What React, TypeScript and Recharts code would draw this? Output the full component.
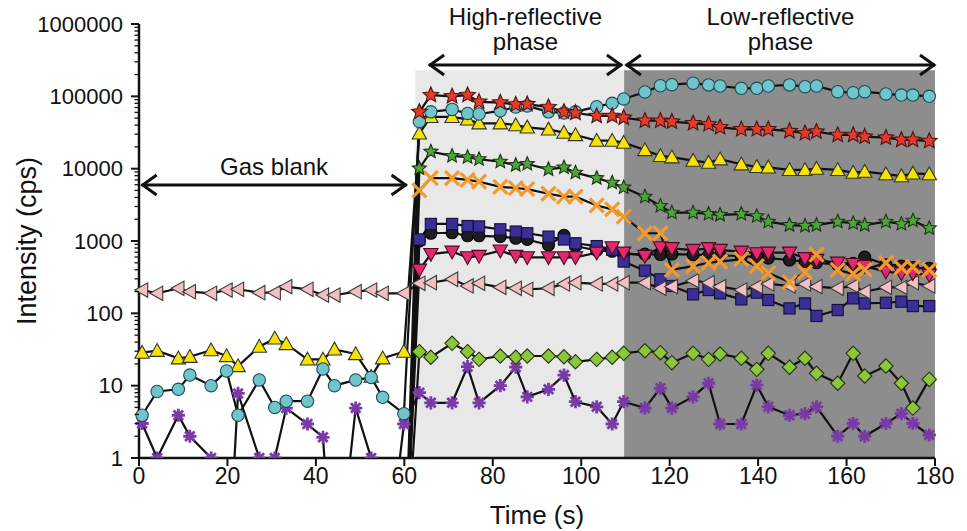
import { ComposedChart, Line, XAxis, YAxis, ReferenceArea, ReferenceLine } from 'recharts';

// acquisition times (s): gas blank (17 scans) then ablation (33 scans)
const times = [
  0.7, 4.1, 8.9, 11.5, 16.3, 19.8, 22.4, 27.2, 30.7, 33.3, 38.1, 41.6, 44.2, 49.0, 52.5, 55.1, 59.9,
  63.4, 66.0, 70.8, 74.3, 76.9, 81.7, 85.2, 87.8, 92.6, 96.1, 98.7, 103.5, 107.0, 109.6, 114.4, 117.9,
  120.5, 125.3, 128.8, 131.4, 136.2, 139.7, 142.3, 147.1, 150.6, 153.2, 158.0, 161.5, 164.1, 168.9,
  172.4, 175.0, 178.7,
];

// intensities (cps); 0 = no counts (drawn below the log axis)
const redStar = [
  0, 0, 0, 0, 0, 0, 0, 0, 0, 0, 0, 0, 0, 0, 0, 0, 0,
  61000, 104000, 100000, 104000, 84000, 82000, 77000, 78000, 71000, 61000, 59000, 53500, 53500, 50700,
  46000, 46000, 44600, 42400, 41000, 37300, 35000, 35000, 35000, 33000, 30900, 32500, 29200, 29200,
  27700, 26800, 25000, 25000, 24100,
];
const cyanCircle = [
  3.9, 8.3, 8.9, 14, 10, 16, 3.9, 12, 5.0, 6.1, 6.1, 17, 10, 12, 13, 6.9, 4.1,
  45000, 61000, 66000, 58000, 57000, 63000, 71000, 73600, 61000, 59000, 61000, 72000, 80000, 92000,
  115000, 140000, 145000, 152000, 144000, 139000, 129000, 129000, 139000, 144000, 136000, 139000,
  116000, 112000, 116000, 108000, 104000, 104000, 100000,
];
const yellowTri = [
  28.6, 30.4, 23.9, 25.1, 31, 25.7, 18.7, 34.6, 45, 37.7, 23.1, 23.1, 31.8, 27.4, 13.3, 23.9, 29.5,
  30800, 52000, 52000, 48000, 42400, 42400, 40000, 37300, 35000, 31500, 29200, 24400, 24400, 22900,
  18100, 15000, 14400, 12900, 12100, 13500, 11500, 10600, 10400, 9600, 9600, 10000, 9600, 8800, 9100,
  8400, 7900, 8600, 8400,
];
const greenStar = [
  0, 0, 0, 0, 0, 0, 0, 0, 0, 0, 0, 0, 0, 0, 0, 0, 0,
  10100, 17200, 15000, 14400, 13500, 12500, 11200, 11600, 9800, 10400, 8800, 7400, 6400, 5500, 4100,
  3050, 2460, 2460, 2360, 2300, 2360, 2200, 1850, 1660, 1620, 1660, 1850, 1760, 1660, 1850, 1720,
  1910, 1500,
];
const orangeX = [
  0, 0, 0, 0, 0, 0, 0, 0, 0, 0, 0, 0, 0, 0, 0, 0, 0,
  5000, 7400, 7400, 7000, 6600, 5600, 5400, 5200, 4500, 4100, 4100, 3100, 2740, 2170, 1280, 1280,
  400, 450, 500, 520, 560, 450, 360, 270, 370, 650, 400, 350, 400, 500, 430, 440, 400,
];
const blueSquare = [
  0, 0, 0, 0, 0, 0, 0, 0, 0, 0, 0, 0, 0, 0, 0, 0, 0,
  1050, 1720, 1720, 1610, 1590, 1450, 1350, 1280, 1150, 1050, 930, 850, 760, 520, 389, 295, 239,
  183, 210, 189, 156, 193, 153, 117, 137, 92, 111, 161, 137, 140, 145, 126, 126,
];
const blackCircle = [
  0, 0, 0, 0, 0, 0, 0, 0, 0, 0, 0, 0, 0, 0, 0, 0, 0,
  1000, 1280, 1300, 1180, 1180, 1150, 1090, 1050, 880, 1200, 850, 740, 720, 660, 660, 650, 660,
  650, 640, 630, 620, 600, 580, 546, 520, 500, 470, 490, 600, 470, 450, 430, 420,
];
const magentaTri = [
  0, 0, 0, 0, 0, 0, 0, 0, 0, 0, 0, 0, 0, 0, 0, 0, 0,
  400, 660, 711, 595, 621, 735, 621, 595, 595, 595, 595, 689, 818, 689, 621, 818, 793, 750, 793,
  750, 711, 676, 689, 689, 577, 546, 501, 480, 450, 377, 357, 357, 339,
];
const pinkTri = [
  210, 189, 222, 199, 189, 210, 215, 193, 193, 234, 215, 179, 179, 199, 210, 189, 189,
  260, 265, 296, 239, 260, 229, 222, 215, 222, 255, 265, 255, 255, 265, 265, 222, 234, 283, 265,
  234, 210, 234, 255, 239, 255, 234, 222, 239, 199, 229, 229, 265, 239,
];
const greenDiamond = [
  0, 0, 0, 0, 0, 0, 0, 0, 0, 0, 0, 0, 0, 0, 0, 0, 0,
  29.5, 24.7, 38.5, 29.5, 23.1, 25.7, 24.7, 25.7, 25.7, 25.1, 21.4, 23.1, 24.7, 28, 30.4, 28.6,
  20.8, 28, 23.1, 27.4, 23.9, 16.8, 28, 18, 23.9, 14.8, 10.8, 28, 13.6, 18.7, 10.8, 4.9, 12.2,
];
const purpleAst = [
  3.0, 1, 3.9, 2.0, 1, 0, 7.8, 1, 1, 4.9, 2.95, 1.93, 0, 4.9, 1, 0, 2.95,
  8, 5.8, 5.8, 18.3, 5.8, 10, 18, 7.0, 8.9, 14, 6.0, 5.1, 2.95, 6.0, 4.9, 9.2, 4.9, 7.0, 10.8,
  2.95, 2.95, 10.2, 5.1, 3.9, 4.1, 5.1, 2.0, 3.0, 2.0, 3.0, 4.1, 3.0, 2.08,
];

const xTicks = [0, 20, 40, 60, 80, 100, 120, 140, 160, 180];
const yMajor = [1, 10, 100, 1000, 10000, 100000, 1000000];
const yMinor = yMajor.slice(0, -1).flatMap((d) => [2, 3, 4, 5, 6, 7, 8, 9].map((m) => m * d));

const ZERO = 0.01;
const series = [
  { key: 'black', vals: blackCircle, kind: 'circle', fill: '#1e1e1e', stroke: '#000', r: 6 },
  { key: 'blue', vals: blueSquare, kind: 'square', fill: '#3a2f97', stroke: '#15103d', r: 5.6 },
  { key: 'purple', vals: purpleAst, kind: 'asterisk', fill: '#7a3aa5', stroke: '#7a3aa5', r: 6.6 },
  { key: 'diamond', vals: greenDiamond, kind: 'diamond', fill: '#8cc63f', stroke: '#24330c', r: 7.2 },
  { key: 'pink', vals: pinkTri, kind: 'left', fill: '#f3bfc3', stroke: '#3a3a3a', r: 7.2 },
  { key: 'magenta', vals: magentaTri, kind: 'down', fill: '#e5286d', stroke: '#4a0d24', r: 7.2 },
  { key: 'orange', vals: orangeX, kind: 'cross', fill: '#f39a2b', stroke: '#f39a2b', r: 7 },
  { key: 'green', vals: greenStar, kind: 'star', fill: '#4ea33a', stroke: '#173512', r: 7 },
  { key: 'yellow', vals: yellowTri, kind: 'up', fill: '#f4e400', stroke: '#333', r: 7.2 },
  { key: 'cyan', vals: cyanCircle, kind: 'circle', fill: '#6fc5cb', stroke: '#1d4d54', r: 6.2 },
  { key: 'red', vals: redStar, kind: 'star', fill: '#e5392b', stroke: '#4a1410', r: 7.8 },
];

const rows = times.map((t, i) => {
  const row: Record<string, number> = { t };
  series.forEach((s) => {
    row[s.key] = s.vals[i] > 0 ? s.vals[i] : ZERO;
  });
  return row;
});

const starPoints = (cx: number, cy: number, ro: number, ri: number) =>
  Array.from({ length: 10 }, (_, i) => {
    const a = -Math.PI / 2 + (i * Math.PI) / 5;
    const r = i % 2 ? ri : ro;
    return `${cx + r * Math.cos(a)},${cy + r * Math.sin(a)}`;
  }).join(' ');

const Marker = ({ kind, cx, cy, fill, stroke, r }: any) => {
  const common = { fill, stroke, strokeWidth: 1.1 };
  switch (kind) {
    case 'circle':
      return <circle cx={cx} cy={cy} r={r} {...common} />;
    case 'square':
      return <rect x={cx - r} y={cy - r} width={2 * r} height={2 * r} {...common} />;
    case 'star':
      return <polygon points={starPoints(cx, cy, r * 1.05, r * 0.48)} {...common} />;
    case 'up':
      return <polygon points={`${cx},${cy - r} ${cx + r},${cy + r * 0.78} ${cx - r},${cy + r * 0.78}`} {...common} />;
    case 'down':
      return <polygon points={`${cx},${cy + r} ${cx + r},${cy - r * 0.78} ${cx - r},${cy - r * 0.78}`} {...common} />;
    case 'left':
      return <polygon points={`${cx - r},${cy} ${cx + r * 0.78},${cy - r} ${cx + r * 0.78},${cy + r}`} {...common} />;
    case 'diamond':
      return <polygon points={`${cx},${cy - r} ${cx + r},${cy} ${cx},${cy + r} ${cx - r},${cy}`} {...common} />;
    case 'cross':
      return (
        <path d={`M${cx - r},${cy - r}L${cx + r},${cy + r}M${cx - r},${cy + r}L${cx + r},${cy - r}`} stroke={stroke} strokeWidth={3.2} />
      );
    default: {
      const d = r * 0.72;
      return (
        <path
          d={`M${cx},${cy - r}L${cx},${cy + r}M${cx - r},${cy}L${cx + r},${cy}M${cx - d},${cy - d}L${cx + d},${cy + d}M${cx - d},${cy + d}L${cx + d},${cy - d}`}
          stroke={stroke}
          strokeWidth={2.8}
        />
      );
    }
  }
};

const dotFor = (s: any) => (props: any) => {
  const { cx, cy, index, payload } = props;
  const k = `${s.key}-${index}`;
  if (cx == null || cy == null || !payload || payload[s.key] < 1) return <g key={k} />;
  return (
    <g key={k}>
      <Marker kind={s.kind} cx={cx} cy={cy} fill={s.fill} stroke={s.stroke} r={s.r} />
    </g>
  );
};

const YTick = ({ x, y, payload }: any) => {
  const major = yMajor.includes(payload.value);
  return (
    <g>
      <line x1={x - (major ? 8 : 4.5)} x2={x} y1={y} y2={y} stroke="#111" strokeWidth={major ? 2 : 1.3} />
      {major && (
        <text x={x - 16} y={y} textAnchor="end" dominantBaseline="central" fontSize={22} fill="#111">
          {payload.value}
        </text>
      )}
    </g>
  );
};

const arrowShape = (lines: string[], firstOffset: number) => (props: any) => {
  const { x1, y1, x2, y2 } = props;
  const mid = (x1 + x2) / 2;
  const st = { fill: 'none', stroke: '#111', strokeWidth: 3 };
  return (
    <g>
      <line x1={x1} y1={y1} x2={x2} y2={y2} {...st} />
      <polyline points={`${x1 + 15},${y1 - 10} ${x1 + 1},${y1} ${x1 + 15},${y1 + 10}`} {...st} />
      <polyline points={`${x2 - 15},${y2 - 10} ${x2 - 1},${y2} ${x2 - 15},${y2 + 10}`} {...st} />
      {lines.map((s, i) => (
        <text key={s} x={mid} y={y1 - firstOffset + i * 25} textAnchor="middle" fontSize={24} fill="#111">
          {s}
        </text>
      ))}
    </g>
  );
};

const gasArrowY = 5950;
const phaseArrowY = 271000;

export default function App() {
  return (
    <div style={{ position: 'absolute', left: 0, top: 0, background: '#fff' }}>
      <ComposedChart
        width={967}
        height={531}
        data={rows}
        margin={{ top: 24, right: 32, bottom: 0, left: 0 }}
        style={{ fontFamily: '"Liberation Sans", Arial, sans-serif' }}
      >
        <ReferenceArea x1={62.5} x2={109.7} y1={1} y2={230000} fill="#e8e8e8" fillOpacity={1} stroke="none" />
        <ReferenceArea x1={109.7} x2={180} y1={1} y2={230000} fill="#8d8d8d" fillOpacity={1} stroke="none" />
        <XAxis
          dataKey="t"
          type="number"
          domain={[0, 180]}
          ticks={xTicks}
          interval={0}
          height={73}
          tickSize={8}
          tickMargin={2}
          axisLine={{ stroke: '#111', strokeWidth: 2.5 }}
          tickLine={{ stroke: '#111', strokeWidth: 2 }}
          tick={{ fontSize: 23, fill: '#111' }}
          label={() => (
            <text x={537} y={524} textAnchor="middle" fontSize={26} fill="#111">
              Time (s)
            </text>
          )}
        />
        <YAxis
          type="number"
          scale="log"
          domain={[1, 1000000]}
          allowDataOverflow
          ticks={[...yMajor, ...yMinor]}
          interval={0}
          width={139}
          tickSize={0}
          tickMargin={0}
          tickLine={false}
          axisLine={{ stroke: '#111', strokeWidth: 2.5 }}
          tick={<YTick />}
          label={() => (
            <text x={36} y={241} transform="rotate(-90 36 241)" textAnchor="middle" fontSize={27} fill="#111">
              Intensity (cps)
            </text>
          )}
        />
        {series.map((s) => (
          <Line
            key={s.key}
            dataKey={s.key}
            type="linear"
            stroke="#111"
            strokeWidth={2.2}
            dot={dotFor(s)}
            activeDot={false}
            legendType="none"
            isAnimationActive={false}
          />
        ))}
        <ReferenceLine
          segment={[{ x: 0.6, y: gasArrowY }, { x: 60.5, y: gasArrowY }]}
          shape={arrowShape(['Gas blank'], 10)}
        />
        <ReferenceLine
          segment={[{ x: 65.6, y: phaseArrowY }, { x: 109.2, y: phaseArrowY }]}
          shape={arrowShape(['High-reflective', 'phase'], 40)}
        />
        <ReferenceLine
          segment={[{ x: 110.1, y: phaseArrowY }, { x: 180, y: phaseArrowY }]}
          shape={arrowShape(['Low-reflective', 'phase'], 40)}
        />
      </ComposedChart>
    </div>
  );
}
